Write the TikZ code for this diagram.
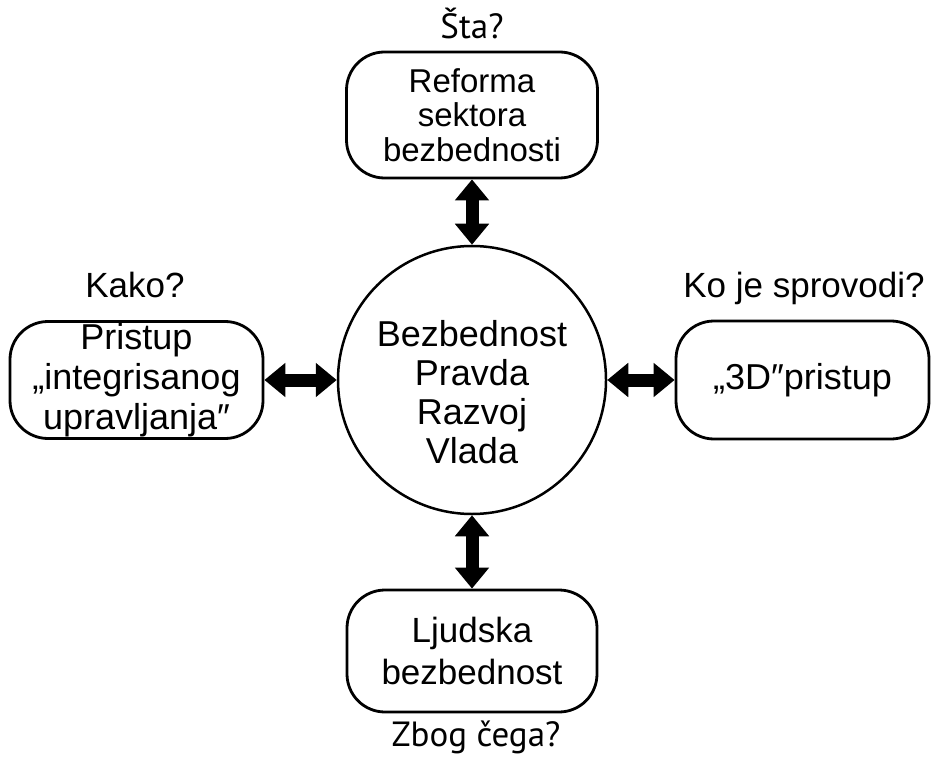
\documentclass[tikz,border=0pt]{standalone}
\usepackage{fontspec}
\setmainfont{Liberation Sans}
\newfontfamily\lblfont{PT Sans}
\usetikzlibrary{arrows.meta}
\tikzset{
  boxnode/.style={draw=black, line width=2.8pt, rounded corners=38pt, align=center, inner sep=0pt},
  circnode/.style={draw=black, line width=2.5pt, circle, inner sep=0pt, minimum size=268pt},
  lbla/.style={font=\fontsize{35}{40}\selectfont, inner sep=0pt, anchor=base},
  lblb/.style={font=\lblfont\fontsize{35}{40}\selectfont, inner sep=0pt, anchor=base},
  dblarrow/.style={draw=black, line width=13pt, {Triangle[width=33pt,length=21pt]}-{Triangle[width=33pt,length=21pt]}}
}
\begin{document}
\begin{tikzpicture}[x=1pt,y=1pt]
\useasboundingbox (0,0) rectangle (933,756);
\node[circnode] (c) at (472,376) {};
\node[align=center, inner sep=0pt, font=\fontsize{36}{39}\selectfont] (ct) at (472,364) {Bezbednost\\Pravda\\Razvoj\\Vlada};
\node[boxnode, font=\fontsize{33}{34.5}\selectfont, minimum width=251pt, minimum height=126pt] (t) at (472,641) {Reforma\\sektora\\bezbednosti};
\node[boxnode, font=\fontsize{36}{40}\selectfont, minimum width=253pt, minimum height=117pt] (l) at (136.5,376) {Pristup\\„integrisanog\\upravljanja″};
\node[boxnode, font=\fontsize{36}{40}\selectfont, minimum width=253pt, minimum height=118pt] (r) at (802.5,376) {„3D″pristup};
\node[boxnode, font=\fontsize{35}{42}\selectfont, minimum width=250pt, minimum height=122pt] (b) at (472,105) {Ljudska\\bezbednost};
\node[lblb] (lt) at (472,717) {Šta?};
\node[lbla] (ll) at (135,458) {Kako?};
\node[lbla] (lr) at (804,458) {Ko je sprovodi?};
\node[lblb] (lb) at (476,10) {Zbog čega?};
\draw[dblarrow] (t.south) -- (c.north);
\draw[dblarrow] (l.east) -- (c.west);
\draw[dblarrow] (c.east) -- (r.west);
\draw[dblarrow] (c.south) -- (b.north);
\end{tikzpicture}
\end{document}
